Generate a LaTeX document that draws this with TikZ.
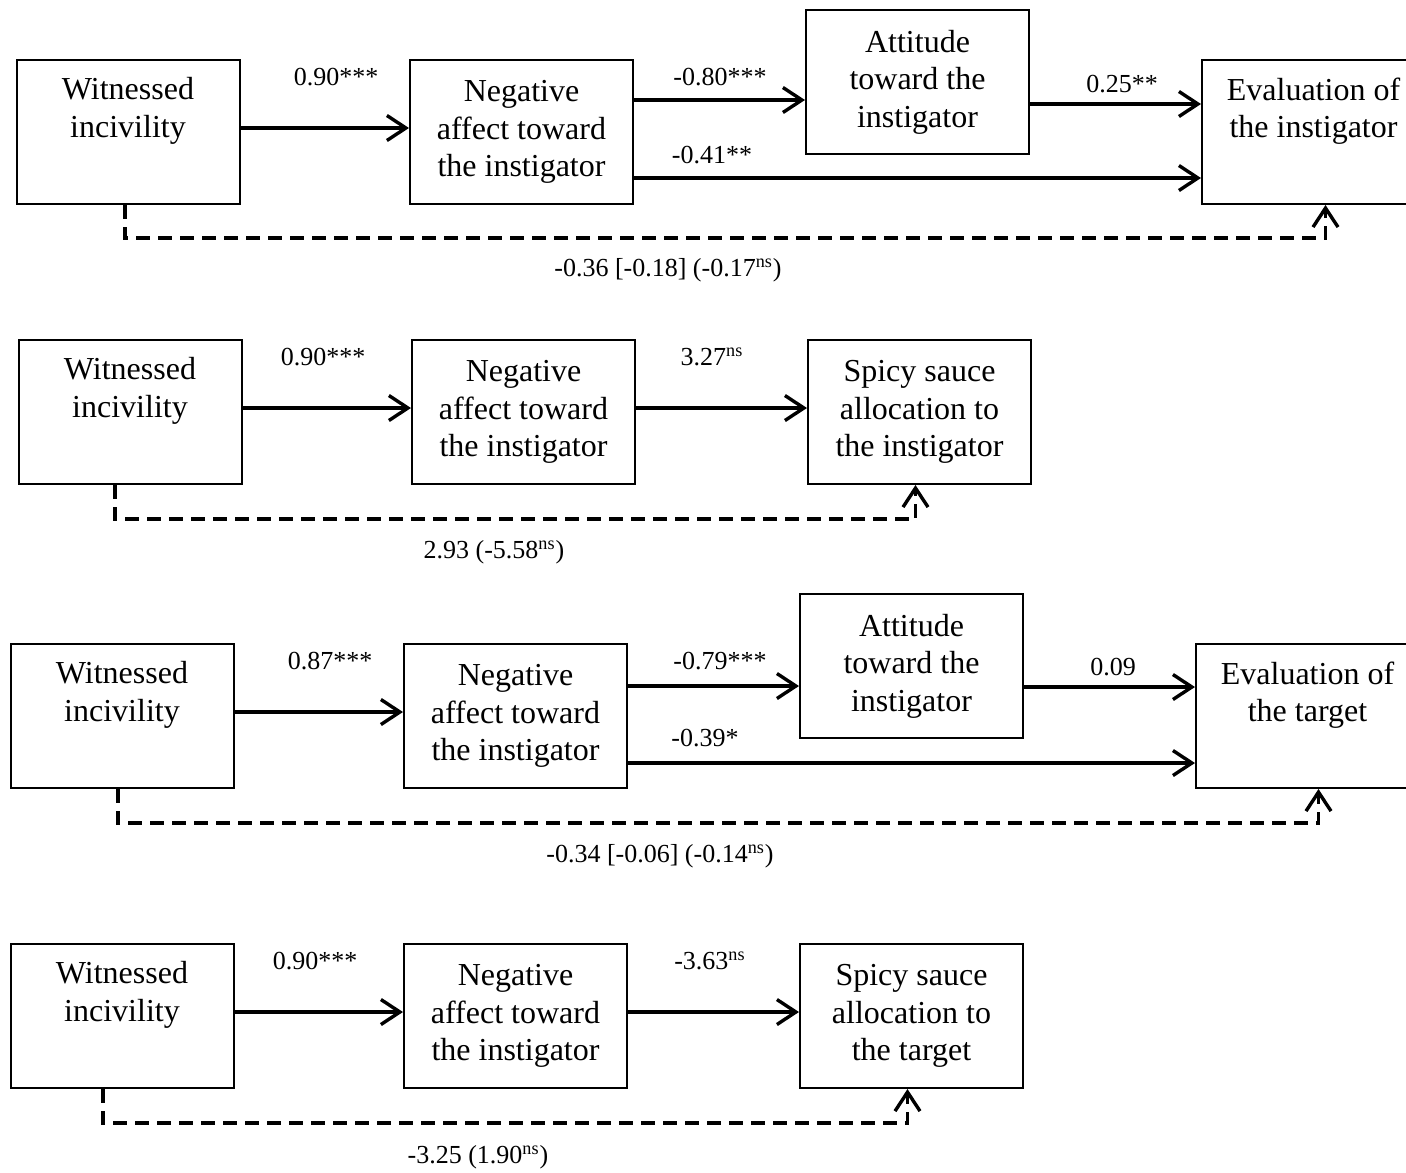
\documentclass[tikz,border=0pt]{standalone}
\usepackage{fontspec}
\setmainfont{Liberation Serif}
\usetikzlibrary{arrows.meta}

\tikzset{
    box/.style={draw, line width=1pt, minimum width=111.5pt, minimum height=72pt,
        inner sep=0pt, align=center, font=\fontsize{16}{18.75}\selectfont},
    lbl/.style={font=\fontsize{13}{15}\selectfont, inner sep=0pt},
    arr/.style={line width=1.7pt, -{Straight Barb[length=9.5pt, width=12.5pt]}},
    dasharr/.style={arr, dash pattern=on 7pt off 4pt}
}

\begin{document}
\begin{tikzpicture}[x=0.5pt, y=-0.5pt]
    \useasboundingbox (0,0) rectangle (1406,1172);

    % Model 1
    \node[box] (w1) at (128,132) {Witnessed\\incivility\\\strut};
    \node[box] (n1) at (521.5,132) {Negative\\affect toward\\the instigator};
    \node[box] (a1) at (917.5,82) {Attitude\\toward the\\instigator};
    \node[box] (e1) at (1313.5,132) {Evaluation of\\the instigator\\\strut};
    \draw[arr] ([yshift=2pt]w1.east) -- ([yshift=2pt]w1.east -| n1.west);
    \draw[arr] ([yshift=16pt]n1.east) -- ([yshift=16pt]n1.east -| a1.west);
    \draw[arr] ([yshift=-11pt]a1.east) -- ([yshift=-11pt]a1.east -| e1.west);
    \draw[arr] ([yshift=-23pt]n1.east) -- ([yshift=-23pt]n1.east -| e1.west);
    \draw[dasharr] ([xshift=-1.5pt]w1.south) -- ++(0,33) -| ([xshift=6pt]e1.south);
    \node[lbl] (l1a) at (336,77) {0.90***};
    \node[lbl] (l1b) at (720,77) {-0.80***};
    \node[lbl] (l1c) at (1122,84) {0.25**};
    \node[lbl] (l1d) at (712,155) {-0.41**};
    \node[lbl] (l1e) at (668,270) {-0.36 [-0.18] (-0.17\textsuperscript{ns})};

    % Model 2
    \node[box] (w2) at (130,412) {Witnessed\\incivility\\\strut};
    \node[box] (n2) at (523.5,412) {Negative\\affect toward\\the instigator};
    \node[box] (s2) at (919.5,412) {Spicy sauce\\allocation to\\the instigator};
    \draw[arr] ([yshift=2pt]w2.east) -- ([yshift=2pt]w2.east -| n2.west);
    \draw[arr] ([yshift=2pt]n2.east) -- ([yshift=2pt]n2.east -| s2.west);
    \draw[dasharr] ([xshift=-7.5pt]w2.south) -- ++(0,34) -| ([xshift=-2pt]s2.south);
    \node[lbl] (l2a) at (323,357) {0.90***};
    \node[lbl] (l2b) at (712,357) {3.27\textsuperscript{ns}};
    \node[lbl] (l2c) at (494,552) {2.93 (-5.58\textsuperscript{ns})};

    % Model 3
    \node[box] (w3) at (122,716) {Witnessed\\incivility\\\strut};
    \node[box] (n3) at (515.5,716) {Negative\\affect toward\\the instigator};
    \node[box] (a3) at (911.5,666) {Attitude\\toward the\\instigator};
    \node[box] (e3) at (1307.5,716) {Evaluation of\\the target\\\strut};
    \draw[arr] ([yshift=2pt]w3.east) -- ([yshift=2pt]w3.east -| n3.west);
    \draw[arr] ([yshift=15pt]n3.east) -- ([yshift=15pt]n3.east -| a3.west);
    \draw[arr] ([yshift=-10.5pt]a3.east) -- ([yshift=-10.5pt]a3.east -| e3.west);
    \draw[arr] ([yshift=-23.5pt]n3.east) -- ([yshift=-23.5pt]n3.east -| e3.west);
    \draw[dasharr] ([xshift=-2pt]w3.south) -- ++(0,34) -| ([xshift=5.5pt]e3.south);
    \node[lbl] (l3a) at (330,661) {0.87***};
    \node[lbl] (l3b) at (720,661) {-0.79***};
    \node[lbl] (l3c) at (1113,667) {0.09};
    \node[lbl] (l3d) at (705,738) {-0.39*};
    \node[lbl] (l3e) at (660,856) {-0.34 [-0.06] (-0.14\textsuperscript{ns})};

    % Model 4
    \node[box] (w4) at (122,1016) {Witnessed\\incivility\\\strut};
    \node[box] (n4) at (515.5,1016) {Negative\\affect toward\\the instigator};
    \node[box] (s4) at (911.5,1016) {Spicy sauce\\allocation to\\the target};
    \draw[arr] ([yshift=2pt]w4.east) -- ([yshift=2pt]w4.east -| n4.west);
    \draw[arr] ([yshift=2pt]n4.east) -- ([yshift=2pt]n4.east -| s4.west);
    \draw[dasharr] ([xshift=-9.5pt]w4.south) -- ++(0,34) -| ([xshift=-2pt]s4.south);
    \node[lbl] (l4a) at (315,961) {0.90***};
    \node[lbl] (l4b) at (710,961) {-3.63\textsuperscript{ns}};
    \node[lbl] (l4c) at (478,1157) {-3.25 (1.90\textsuperscript{ns})};
\end{tikzpicture}
\end{document}
